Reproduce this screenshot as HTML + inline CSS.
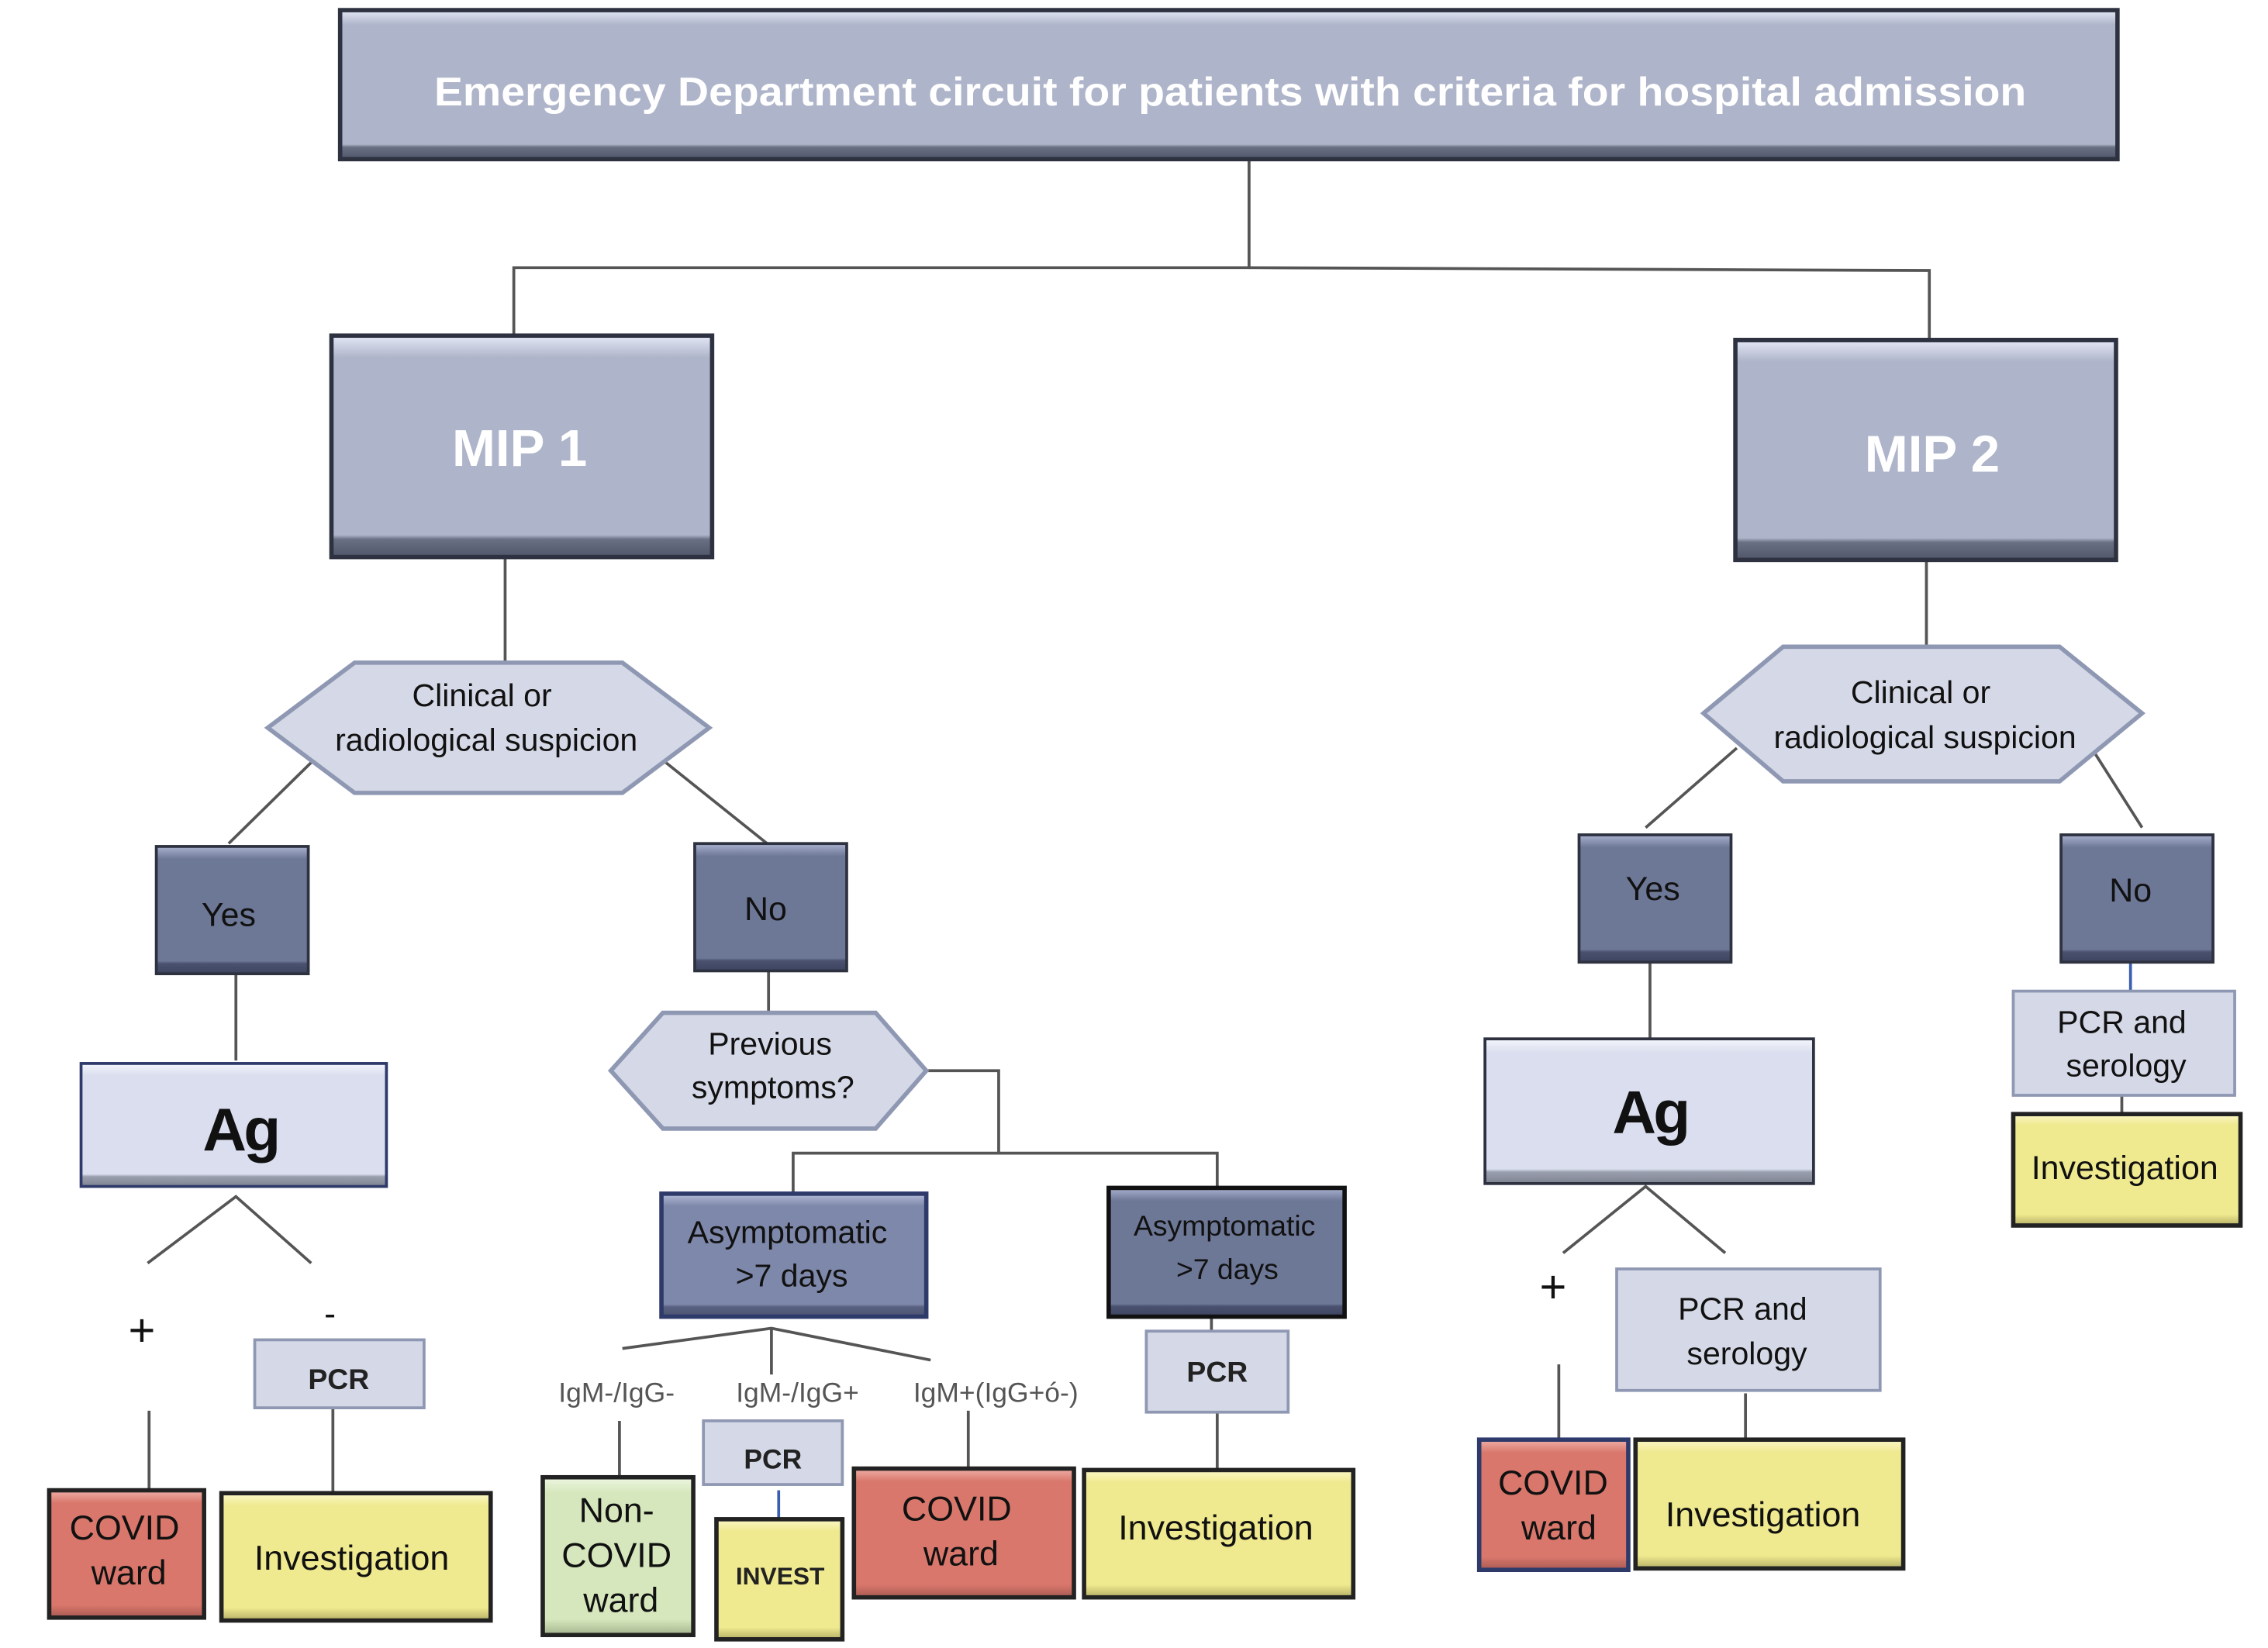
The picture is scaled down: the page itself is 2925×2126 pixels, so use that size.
<!DOCTYPE html>
<html><head><meta charset="utf-8"><style>
html,body{margin:0;padding:0;background:#fff}
svg{display:block}
text{font-family:"Liberation Sans",Arial,sans-serif}
</style></head><body>
<svg width="2925" height="2126" viewBox="0 0 1567 1139" preserveAspectRatio="none" xmlns="http://www.w3.org/2000/svg">
<defs>
<linearGradient id="gT" x1="0" y1="0" x2="0" y2="1"><stop offset="0" stop-color="#e4e8f6"/><stop offset="0.1" stop-color="#aeb4c9"/><stop offset="0.9" stop-color="#aeb4c9"/><stop offset="0.92" stop-color="#6a7084"/><stop offset="1" stop-color="#50566a"/></linearGradient>
<linearGradient id="gD" x1="0" y1="0" x2="0" y2="1"><stop offset="0" stop-color="#aab3d0"/><stop offset="0.1" stop-color="#6d7796"/><stop offset="0.9" stop-color="#6d7796"/><stop offset="0.92" stop-color="#4a5270"/><stop offset="1" stop-color="#3d4460"/></linearGradient>
<linearGradient id="gM" x1="0" y1="0" x2="0" y2="1"><stop offset="0" stop-color="#b4bcd8"/><stop offset="0.1" stop-color="#7e88aa"/><stop offset="0.9" stop-color="#7e88aa"/><stop offset="0.92" stop-color="#5a6282"/><stop offset="1" stop-color="#4a5270"/></linearGradient>
<linearGradient id="gL" x1="0" y1="0" x2="0" y2="1"><stop offset="0" stop-color="#f4f6fc"/><stop offset="0.1" stop-color="#dadeee"/><stop offset="0.9" stop-color="#dadeee"/><stop offset="0.92" stop-color="#9a9fae"/><stop offset="1" stop-color="#7e8392"/></linearGradient>
<linearGradient id="gR" x1="0" y1="0" x2="0" y2="1"><stop offset="0" stop-color="#f0b0a8"/><stop offset="0.1" stop-color="#d9776c"/><stop offset="0.9" stop-color="#d9776c"/><stop offset="1" stop-color="#a85a52"/></linearGradient>
<linearGradient id="gY" x1="0" y1="0" x2="0" y2="1"><stop offset="0" stop-color="#fbf8c8"/><stop offset="0.1" stop-color="#efe98f"/><stop offset="0.9" stop-color="#efe98f"/><stop offset="1" stop-color="#b5af66"/></linearGradient>
<linearGradient id="gG" x1="0" y1="0" x2="0" y2="1"><stop offset="0" stop-color="#eef7e2"/><stop offset="0.1" stop-color="#d6e7bd"/><stop offset="0.9" stop-color="#d6e7bd"/><stop offset="1" stop-color="#a4b48e"/></linearGradient>
</defs>

<g stroke="#555" stroke-width="2" fill="none">
<polyline points="863,110 863,185 355,185 355,232"/>
<polyline points="863,185 1333,187 1333,235"/>
<line x1="349" y1="385" x2="349" y2="458"/>
<line x1="215" y1="527" x2="158" y2="583"/>
<line x1="455" y1="523" x2="530" y2="583"/>
<line x1="163" y1="673" x2="163" y2="733"/>
<polyline points="102,873 163,827 215,873"/>
<line x1="103" y1="975" x2="103" y2="1030"/>
<line x1="230" y1="973" x2="230" y2="1032"/>
<line x1="531" y1="671" x2="531" y2="700"/>
<polyline points="640,740 690,740 690,797"/>
<polyline points="548,825 548,797 841,797 841,822"/>
<polyline points="430,932 533,918 643,940"/>
<line x1="533" y1="918" x2="533" y2="950"/>
<line x1="428" y1="982" x2="428" y2="1020"/>
<line x1="669" y1="975" x2="669" y2="1015"/>
<line x1="837" y1="910" x2="837" y2="920"/>
<line x1="841" y1="976" x2="841" y2="1016"/>
<line x1="1331" y1="387" x2="1331" y2="447"/>
<line x1="1200" y1="517" x2="1137" y2="572"/>
<line x1="1447" y1="520" x2="1480" y2="572"/>
<line x1="1140" y1="665" x2="1140" y2="718"/>
<line x1="1466" y1="757" x2="1466" y2="770"/>
<polyline points="1080,866 1137,820 1192,866"/>
<line x1="1077" y1="943" x2="1077" y2="995"/>
<line x1="1206" y1="963" x2="1206" y2="995"/>
</g>
<g stroke="#3b5fb0" stroke-width="2">
<line x1="538" y1="1030" x2="538" y2="1050"/>
<line x1="1472" y1="665" x2="1472" y2="685"/>
</g>

<rect x="235" y="7" width="1228" height="103" fill="url(#gT)" stroke="#2e3240" stroke-width="3"/>
<text x="850" y="73" font-size="28" font-weight="bold" fill="#fff" text-anchor="middle" textLength="1100" lengthAdjust="spacingAndGlyphs">Emergency Department circuit for patients with criteria for hospital admission</text>

<rect x="229" y="232" width="263" height="153" fill="url(#gT)" stroke="#2e3240" stroke-width="3"/>
<text x="359" y="322" font-size="36" font-weight="bold" fill="#fff" text-anchor="middle">MIP 1</text>
<rect x="1199" y="235" width="263" height="152" fill="url(#gT)" stroke="#2e3240" stroke-width="3"/>
<text x="1335" y="326" font-size="36" font-weight="bold" fill="#fff" text-anchor="middle">MIP 2</text>

<polygon points="185,503 245,458 430,458 490,503 430,548 245,548" fill="#d5d8e6" stroke="#8f98b3" stroke-width="3"/>
<text x="333" y="488" font-size="22" text-anchor="middle" fill="#111">Clinical or</text>
<text x="336" y="519" font-size="22" text-anchor="middle" fill="#111">radiological suspicion</text>
<polygon points="1177,493 1232,447 1423,447 1480,493 1423,540 1232,540" fill="#d5d8e6" stroke="#8f98b3" stroke-width="3"/>
<text x="1327" y="486" font-size="22" text-anchor="middle" fill="#111">Clinical or</text>
<text x="1330" y="517" font-size="22" text-anchor="middle" fill="#111">radiological suspicion</text>
<polygon points="422,740 458,700 605,700 640,740 605,780 458,780" fill="#d5d8e6" stroke="#8f98b3" stroke-width="3"/>
<text x="532" y="729" font-size="22" text-anchor="middle" fill="#111">Previous</text>
<text x="534" y="759" font-size="22" text-anchor="middle" fill="#111">symptoms?</text>

<rect x="108" y="585" width="105" height="88" fill="url(#gD)" stroke="#2e3240" stroke-width="2"/>
<text x="158" y="640" font-size="23" text-anchor="middle" fill="#111">Yes</text>
<rect x="480" y="583" width="105" height="88" fill="url(#gD)" stroke="#2e3240" stroke-width="2"/>
<text x="529" y="636" font-size="23" text-anchor="middle" fill="#111">No</text>
<rect x="1091" y="577" width="105" height="88" fill="url(#gD)" stroke="#2e3240" stroke-width="2"/>
<text x="1142" y="622" font-size="23" text-anchor="middle" fill="#111">Yes</text>
<rect x="1424" y="577" width="105" height="88" fill="url(#gD)" stroke="#2e3240" stroke-width="2"/>
<text x="1472" y="623" font-size="23" text-anchor="middle" fill="#111">No</text>

<rect x="56" y="735" width="211" height="85" fill="url(#gL)" stroke="#2e3a6a" stroke-width="2"/>
<text x="166" y="795" font-size="42" font-weight="bold" text-anchor="middle" fill="#111" letter-spacing="-2">Ag</text>
<rect x="1026" y="718" width="227" height="100" fill="url(#gL)" stroke="#2e3240" stroke-width="2"/>
<text x="1140" y="783" font-size="42" font-weight="bold" text-anchor="middle" fill="#111" letter-spacing="-2">Ag</text>

<text x="98" y="930" font-size="32" text-anchor="middle" fill="#111">+</text>
<text x="228" y="916" font-size="24" text-anchor="middle" fill="#111">-</text>
<text x="1073" y="900" font-size="32" text-anchor="middle" fill="#111">+</text>

<rect x="176" y="926" width="117" height="47" fill="#d5d8e6" stroke="#8f98b3" stroke-width="2"/>
<text x="234" y="960" font-size="20" font-weight="bold" text-anchor="middle" fill="#222">PCR</text>
<rect x="486" y="982" width="96" height="44" fill="#d5d8e6" stroke="#8f98b3" stroke-width="2"/>
<text x="534" y="1015" font-size="19" font-weight="bold" text-anchor="middle" fill="#222">PCR</text>
<rect x="792" y="920" width="98" height="56" fill="#d5d8e6" stroke="#8f98b3" stroke-width="2"/>
<text x="841" y="955" font-size="20" font-weight="bold" text-anchor="middle" fill="#222">PCR</text>
<rect x="1391" y="685" width="153" height="72" fill="#d5d8e6" stroke="#8f98b3" stroke-width="2"/>
<text x="1466" y="714" font-size="22" text-anchor="middle" fill="#111">PCR and</text>
<text x="1469" y="744" font-size="22" text-anchor="middle" fill="#111">serology</text>
<rect x="1117" y="877" width="182" height="84" fill="#d5d8e6" stroke="#8f98b3" stroke-width="2"/>
<text x="1204" y="912" font-size="22" text-anchor="middle" fill="#111">PCR and</text>
<text x="1207" y="943" font-size="22" text-anchor="middle" fill="#111">serology</text>

<rect x="457" y="825" width="183" height="85" fill="url(#gM)" stroke="#2e3a6a" stroke-width="3"/>
<text x="544" y="859" font-size="22" text-anchor="middle" fill="#111">Asymptomatic</text>
<text x="547" y="889" font-size="22" text-anchor="middle" fill="#111">&gt;7 days</text>
<rect x="766" y="821" width="163" height="89" fill="url(#gD)" stroke="#111" stroke-width="3"/>
<text x="846" y="854" font-size="20" text-anchor="middle" fill="#111">Asymptomatic</text>
<text x="848" y="884" font-size="20" text-anchor="middle" fill="#111">&gt;7 days</text>

<text x="426" y="969" font-size="19" text-anchor="middle" fill="#555">IgM-/IgG-</text>
<text x="551" y="969" font-size="19" text-anchor="middle" fill="#555">IgM-/IgG+</text>
<text x="688" y="969" font-size="19" text-anchor="middle" fill="#555">IgM+(IgG+ó-)</text>

<rect x="34" y="1030" width="107" height="88" fill="url(#gR)" stroke="#222" stroke-width="3"/>
<text x="86" y="1064" font-size="24" text-anchor="middle" fill="#111">COVID</text>
<text x="89" y="1095" font-size="24" text-anchor="middle" fill="#111">ward</text>
<rect x="153" y="1032" width="186" height="88" fill="url(#gY)" stroke="#222" stroke-width="3"/>
<text x="243" y="1085" font-size="24" text-anchor="middle" fill="#111">Investigation</text>
<rect x="375" y="1021" width="104" height="109" fill="url(#gG)" stroke="#222" stroke-width="3"/>
<text x="426" y="1052" font-size="24" text-anchor="middle" fill="#111">Non-</text>
<text x="426" y="1083" font-size="24" text-anchor="middle" fill="#111">COVID</text>
<text x="429" y="1114" font-size="24" text-anchor="middle" fill="#111">ward</text>
<rect x="495" y="1050" width="87" height="83" fill="url(#gY)" stroke="#222" stroke-width="3"/>
<text x="539" y="1095" font-size="17" font-weight="bold" text-anchor="middle" fill="#222">INVEST</text>
<rect x="590" y="1015" width="152" height="89" fill="url(#gR)" stroke="#222" stroke-width="3"/>
<text x="661" y="1051" font-size="24" text-anchor="middle" fill="#111">COVID</text>
<text x="664" y="1082" font-size="24" text-anchor="middle" fill="#111">ward</text>
<rect x="749" y="1016" width="186" height="88" fill="url(#gY)" stroke="#222" stroke-width="3"/>
<text x="840" y="1064" font-size="24" text-anchor="middle" fill="#111">Investigation</text>
<rect x="1391" y="770" width="157" height="77" fill="url(#gY)" stroke="#222" stroke-width="3"/>
<text x="1468" y="815" font-size="23" text-anchor="middle" fill="#111">Investigation</text>
<rect x="1022" y="995" width="103" height="90" fill="url(#gR)" stroke="#2e3a6a" stroke-width="3"/>
<text x="1073" y="1033" font-size="24" text-anchor="middle" fill="#111">COVID</text>
<text x="1077" y="1064" font-size="24" text-anchor="middle" fill="#111">ward</text>
<rect x="1130" y="995" width="185" height="89" fill="url(#gY)" stroke="#222" stroke-width="3"/>
<text x="1218" y="1055" font-size="24" text-anchor="middle" fill="#111">Investigation</text>
</svg>
</body></html>
